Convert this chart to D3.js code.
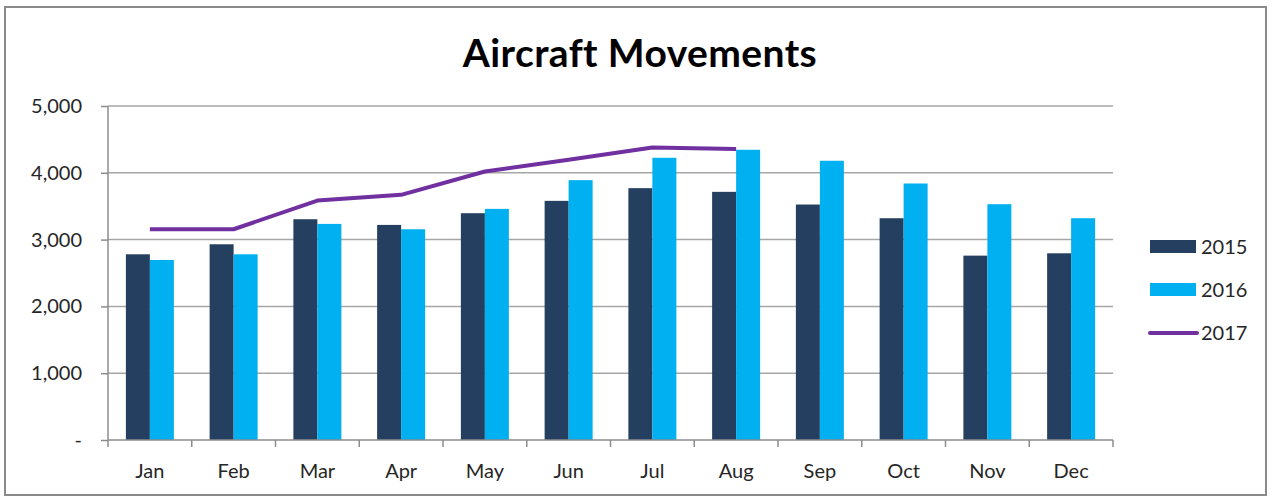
<!DOCTYPE html>
<html><head><meta charset="utf-8">
<script src="https://cdn.jsdelivr.net/npm/d3@7"></script>
<style>body{margin:0;background:#fff}svg{display:block}</style>
</head><body><svg id="c" width="1270" height="498"></svg>
<script>
const months = ["Jan","Feb","Mar","Apr","May","Jun","Jul","Aug","Sep","Oct","Nov","Dec"];
const v2015 = [2780,2930,3305,3220,3395,3580,3770,3715,3525,3320,2760,2795];
const v2016 = [2695,2780,3235,3155,3460,3890,4225,4345,4180,3840,3530,3320];
const v2017 = [3155,3155,3585,3670,4020,4195,4380,4355];
const yTicks = [0,1000,2000,3000,4000,5000];
const seriesNames = ["2015","2016","2017"];
const colors = {"2015":"#253F60","2016":"#00B0F0","2017":"#7030A0"};
const FONT = "Lato, 'Open Sans', sans-serif";

const svg = d3.select("#c");
svg.append("rect").attr("x",5).attr("y",7).attr("width",1261).attr("height",488)
  .attr("fill","#fff").attr("stroke","#8a8a8a").attr("stroke-width",2);

svg.append("text").attr("x",640).attr("y",67).attr("text-anchor","middle")
  .attr("font-family",FONT).attr("font-weight","bold").attr("font-size",39)
  .attr("letter-spacing",0.4).attr("fill","#000").text("Aircraft Movements");

const L=108,R=1113,T=106,B=440;
const x = d3.scaleBand().domain(months).range([L,R]).paddingInner(0.427).paddingOuter(0.2135);
const y = d3.scaleLinear().domain([0,5000]).range([B,T]);

// gridlines
svg.append("g").selectAll("line").data(yTicks.slice(1)).join("line")
  .attr("x1",L).attr("x2",R).attr("y1",d=>y(d)).attr("y2",d=>y(d))
  .attr("stroke","#a6a6a6").attr("stroke-width",1.5);

// y axis
const ya = svg.append("g").attr("transform",`translate(${L},0)`)
  .call(d3.axisLeft(y).tickValues(yTicks).tickSize(7).tickPadding(19)
    .tickFormat(d=>d===0?"-":d3.format(",")(d)));
ya.select(".domain").attr("stroke","#8c8c8c").attr("stroke-width",1.5).attr("d",`M0,${T}V${B}`);
ya.selectAll(".tick line").attr("stroke","#8c8c8c").attr("stroke-width",1.5);
ya.selectAll("text").attr("font-family",FONT).attr("font-size",20).attr("fill","#262626");

// bars
const xs = d3.scaleBand().domain(["2015","2016"]).range([0,x.bandwidth()]);
const g = svg.append("g");
months.forEach((m,i)=>{
  [["2015",v2015[i]],["2016",v2016[i]]].forEach(([s,v])=>{
    g.append("rect").attr("x",x(m)+xs(s)).attr("y",y(v)).attr("width",xs.bandwidth())
      .attr("height",B-y(v)).attr("fill",colors[s]);
  });
});

// x axis
const step = x.step();
const xa = svg.append("g");
xa.append("line").attr("x1",L).attr("x2",R).attr("y1",B).attr("y2",B).attr("stroke","#8c8c8c").attr("stroke-width",1.5);
const bounds = d3.range(months.length+1).map(i=>L+i*step);
xa.selectAll(".xt").data(bounds).join("line").attr("x1",d=>d).attr("x2",d=>d)
  .attr("y1",B).attr("y2",B+7).attr("stroke","#8c8c8c").attr("stroke-width",1.5);
xa.selectAll("text").data(months).join("text")
  .attr("x",d=>x(d)+x.bandwidth()/2).attr("y",478).attr("text-anchor","middle")
  .attr("font-family",FONT).attr("font-size",20).attr("fill","#262626").text(d=>d);

// line 2017
const line = d3.line().x((d,i)=>x(months[i])+x.bandwidth()/2).y(d=>y(d));
svg.append("path").datum(v2017).attr("d",line).attr("fill","none")
  .attr("stroke",colors["2017"]).attr("stroke-width",4).attr("stroke-linejoin","round");

// legend
const lg = svg.append("g");
seriesNames.forEach((s,i)=>{
  const cy = 247 + i*43;
  if (s==="2017") {
    lg.append("line").attr("x1",1150).attr("x2",1197).attr("y1",cy).attr("y2",cy)
      .attr("stroke",colors[s]).attr("stroke-width",4).attr("stroke-linecap","round");
  } else {
    lg.append("rect").attr("x",1150).attr("y",cy-7).attr("width",46).attr("height",13).attr("fill",colors[s]);
  }
  lg.append("text").attr("x",1201).attr("y",cy).attr("dy","0.35em")
    .attr("font-family",FONT).attr("font-size",20).attr("fill","#262626").text(s);
});
</script></body></html>
